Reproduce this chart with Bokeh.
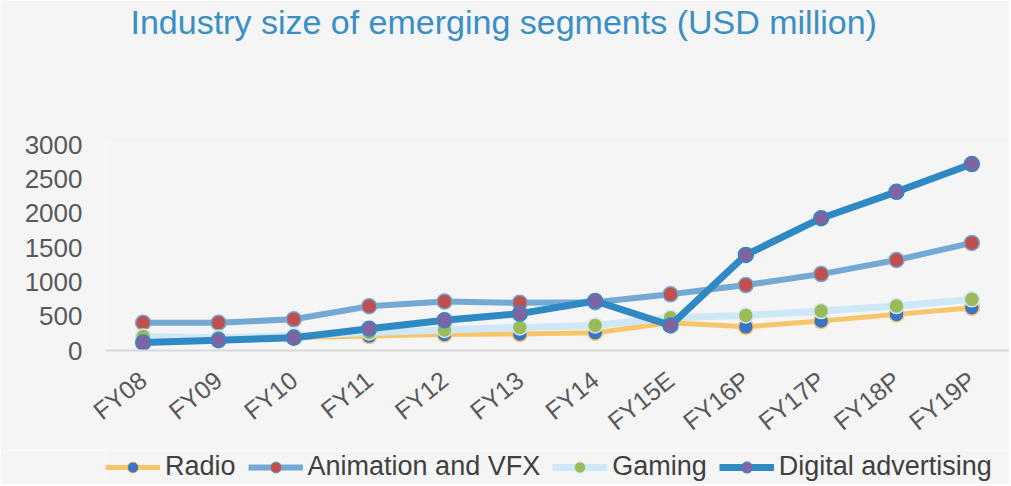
from bokeh.plotting import figure
from bokeh.layouts import column
from bokeh.models import FactorRange, Range1d, Legend, LegendItem, FixedTicker, Title
from bokeh.embed import file_html
from bokeh.resources import INLINE

years = ["FY08", "FY09", "FY10", "FY11", "FY12", "FY13", "FY14", "FY15E", "FY16P", "FY17P", "FY18P", "FY19P"]
radio = [180, 170, 190, 210, 234, 240, 260, 405, 345, 430, 527, 625]
animation = [405, 405, 455, 645, 715, 695, 705, 820, 955, 1115, 1320, 1570]
gaming = [205, 185, 215, 263, 300, 335, 366, 478, 512, 575, 648, 746]
digital = [115, 150, 186, 317, 440, 538, 722, 366, 1395, 1930, 2315, 2720]
names = ["Radio", "Animation and VFX", "Gaming", "Digital advertising"]

BG = "#f5f5f5"
p = figure(x_range=FactorRange(*years), y_range=Range1d(0, 3020),
           frame_width=904, frame_height=207, title=None,
           output_backend="svg", toolbar_location=None,
           background_fill_color=BG, border_fill_color=BG, outline_line_color=None,
           min_border_left=105, min_border_right=0, min_border_top=0, min_border_bottom=100)

spacer = Title(text=" ", text_font_size="91px", standoff=0)
p.add_layout(spacer, "above")
main_title = Title(text="Industry size of emerging segments (USD million)",
                   align="left", offset=25, standoff=0,
                   text_color="#3a8fc4", text_font="Liberation Sans",
                   text_font_style="normal", text_font_size="34px")
p.add_layout(main_title, "above")

p.xgrid.grid_line_color = None
p.ygrid.grid_line_color = None

p.yaxis.ticker = FixedTicker(ticks=[0, 500, 1000, 1500, 2000, 2500, 3000])
p.yaxis.axis_line_color = None
p.yaxis.major_tick_line_color = None
p.yaxis.minor_tick_line_color = None
p.yaxis.major_label_text_font = "Liberation Sans"
p.yaxis.major_label_text_font_size = "26px"
p.yaxis.major_label_text_color = "#595959"
p.yaxis.major_label_standoff = 17

p.xaxis.axis_line_color = "#d9d9d9"
p.xaxis.axis_line_width = 2
p.xaxis.major_tick_line_color = None
p.xaxis.minor_tick_line_color = None
p.xaxis.major_label_text_font = "Liberation Sans"
p.xaxis.major_label_text_font_size = "25px"
p.xaxis.major_label_text_color = "#595959"
p.xaxis.major_label_orientation = 0.68
p.xaxis.major_label_standoff = 20

styles = [
    ("#f8c66a", 5, "#3a74c2"),
    ("#73a9d2", 6, "#c0504d"),
    ("#cfe8f8", 7, "#9bbb59"),
    ("#2f8ac4", 7, "#8064a2"),
]
values = [radio, animation, gaming, digital]

# legend strip: its own figure under the chart; its proxy renderers use the
# same series but fall outside its tiny range, so only the legend shows.
lg = figure(width=1009, height=34, output_backend="svg", toolbar_location=None,
            x_range=Range1d(0, 1), y_range=Range1d(0, 1),
            x_axis_location=None, y_axis_location=None,
            background_fill_color=BG, border_fill_color=BG, outline_line_color=None,
            min_border_left=0, min_border_right=0, min_border_top=0, min_border_bottom=0)
lg.grid.visible = False

idx = list(range(len(years)))
items = []
for name, vals, (lc, lw, mc) in zip(names, values, styles):
    p.line(years, vals, line_color=lc, line_width=lw)
    p.scatter(years, vals, size=15, fill_color=mc, line_color=lc, line_width=1.5)
    kl = lg.line(x=idx, y=vals, line_color=lc, line_width=lw)
    ks = lg.scatter(x=idx, y=vals, size=9, fill_color=mc, line_color=lc, line_width=1)
    items.append(LegendItem(label=name, renderers=[kl, ks]))

legend = Legend(items=items, orientation="horizontal", location=(0, 2),
                background_fill_alpha=0, border_line_color=None,
                label_text_font="Liberation Sans", label_text_font_size="27px",
                label_text_color="#404040", glyph_width=55, glyph_height=28,
                spacing=12, label_standoff=5, margin=0, padding=0)
lg.add_layout(legend, "center")

layout = column(p, lg, spacing=0)
open("out.html", "w").write(file_html(layout, INLINE))
